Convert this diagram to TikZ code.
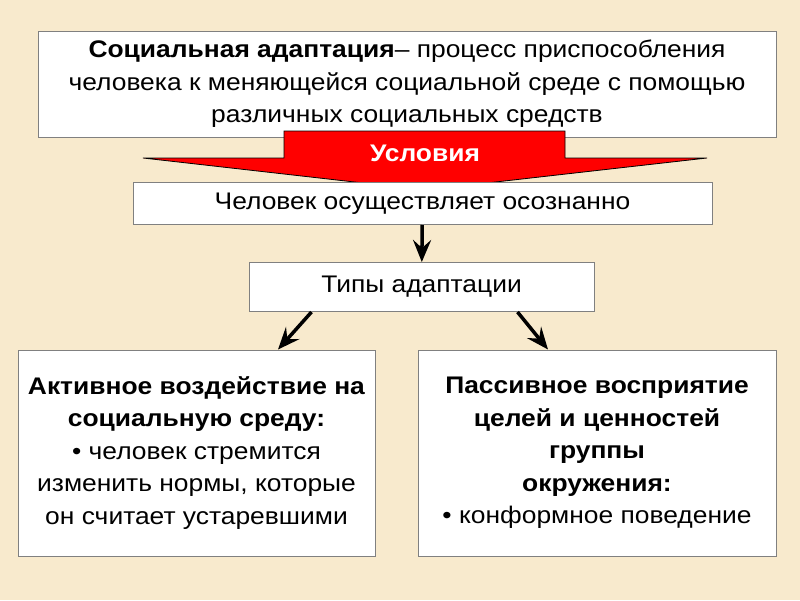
\documentclass[tikz,border=0pt]{standalone}
\usepackage{fontspec}
\setmainfont[FakeStretch=1.1]{Liberation Sans}
\usetikzlibrary{arrows.meta}
\definecolor{parchment}{HTML}{F8EACD}
\definecolor{boxline}{HTML}{808080}
\definecolor{condred}{HTML}{FF0000}
\tikzstyle{textbox} = [rectangle, draw=boxline, line width=1pt, fill=white, inner sep=0pt, align=center, font=\fontsize{24}{32.5}\selectfont]
\tikzstyle{arrow} = [line width=3.5pt,-{Stealth[length=22pt,width=18pt,inset=8pt]}]

\begin{document}
\begin{tikzpicture}[x=1pt,y=-1pt]

% Background
\fill[parchment] (0,0) rectangle (800,600);
\useasboundingbox (0,0) rectangle (800,600);

% Nodes
\node (definition) [textbox, minimum width=738pt, minimum height=106pt] at (407,84) {\textbf{Социальная адаптация}– процесс приспособления\\человека к меняющейся социальной среде с помощью\\различных социальных средств};

% Red arrow
\draw [fill=condred, draw=black, line width=0.8pt, line join=miter] (284,131) -- (565,131) -- (565,158) -- (707,158) -- (425,190) -- (143,158) -- (284,158) -- cycle;
\node (conditions) [text=white, font=\fontsize{24}{28}\selectfont\bfseries] at (425,153) {Условия};

\node (person) [textbox, minimum width=579pt, minimum height=42pt] at (422.5,203.5) {Человек осуществляет осознанно};
\node (types) [textbox, minimum width=345pt, minimum height=49pt] at (421.5,287) {Типы адаптации};
\node (active) [textbox, minimum width=357pt, minimum height=206pt] at (196.5,453) {\textbf{Активное воздействие на}\\\textbf{социальную среду:}\\• человек стремится\\изменить нормы, которые\\он считает устаревшими};
\node (passive) [textbox, minimum width=358pt, minimum height=206pt] at (597,453) {\textbf{Пассивное восприятие}\\\textbf{целей и ценностей}\\\textbf{группы}\\\textbf{окружения:}\\• конформное поведение};

% Arrows
\draw [arrow] (person) -- (types);
\draw [arrow] ([xshift=-110pt]types.south) -- ([xshift=81.5pt]active.north);
\draw [arrow] ([xshift=96pt]types.south) -- ([xshift=-49pt]passive.north);

\end{tikzpicture}
\end{document}
